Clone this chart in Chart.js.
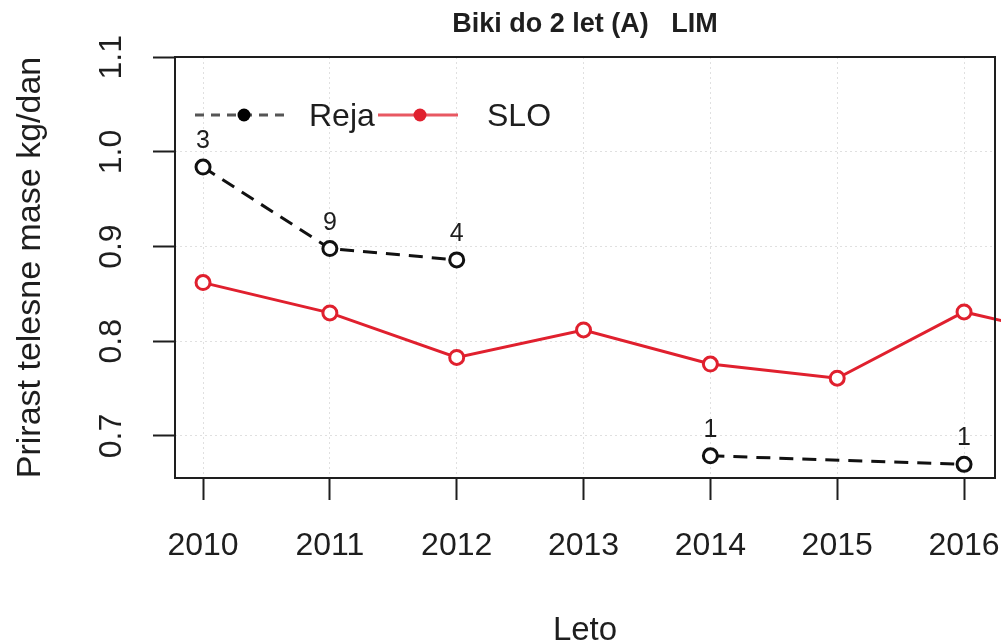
<!DOCTYPE html>
<html>
<head>
<meta charset="utf-8">
<title>Biki do 2 let (A) LIM</title>
<script src="https://cdn.jsdelivr.net/npm/chart.js@4.4.1/dist/chart.umd.min.js"></script>
<style>
  html, body { margin: 0; padding: 0; background: #fff; }
  #wrap { width: 1006px; height: 644px; }
</style>
</head>
<body>
<div id="wrap"><canvas id="chart" width="1006" height="644"></canvas></div>
<script>
// --- data ---
const chartTitle = 'Biki do 2 let (A)   LIM';
const xTitle = 'Leto';
const yTitle = 'Prirast telesne mase kg/dan';

const xTicks = [2010, 2011, 2012, 2013, 2014, 2015, 2016];
const yTicks = [0.7, 0.8, 0.9, 1.0, 1.1];

const rejaYears  = [2010, 2011, 2012, 2013, 2014, 2016];
const rejaValues = [0.984, 0.898, 0.886, null, 0.679, 0.670];
const rejaCounts = [3, 9, 4, null, 1, 1];

const sloYears  = [2010, 2011, 2012, 2013, 2014, 2015, 2016, 2017];
const sloValues = [0.862, 0.830, 0.783, 0.812, 0.776, 0.761, 0.831, 0.800];

const legendLabels = ['Reja', 'SLO'];

// --- styling ---
const FONT = "'Liberation Sans', Arial, Helvetica, sans-serif";
const INK = '#1e1e1e';
const RED = '#e0202e';

const toPoints = (xs, ys) => xs.map((x, i) => ({ x: x, y: ys[i] }));

// Frame, rotated y tick labels, count labels, legend and title
const decorations = {
    id: 'decorations',
    afterDraw(chart) {
        const ctx = chart.ctx;
        const area = chart.chartArea;
        const yScale = chart.scales.y;

        ctx.save();

        // plot frame
        ctx.strokeStyle = INK;
        ctx.lineWidth = 2;
        ctx.strokeRect(area.left, area.top, area.right - area.left, area.bottom - area.top);

        // y tick labels, rotated like R's default
        ctx.fillStyle = INK;
        ctx.font = '32px ' + FONT;
        ctx.textAlign = 'center';
        ctx.textBaseline = 'middle';
        yTicks.forEach(v => {
            const py = yScale.getPixelForValue(v);
            ctx.save();
            ctx.translate(112, py);
            ctx.rotate(-Math.PI / 2);
            ctx.fillText(v.toFixed(1), 0, 0);
            ctx.restore();
        });

        // number of animals above Reja points
        const meta = chart.getDatasetMeta(0);
        ctx.font = '25px ' + FONT;
        ctx.textBaseline = 'alphabetic';
        meta.data.forEach((pt, i) => {
            if (rejaCounts[i] == null || rejaValues[i] == null) return;
            ctx.fillText(String(rejaCounts[i]), pt.x, pt.y - 19);
        });

        // legend
        const ly = 115;
        ctx.lineWidth = 3;
        ctx.strokeStyle = '#555';
        ctx.setLineDash([9, 7]);
        ctx.beginPath(); ctx.moveTo(195, ly); ctx.lineTo(287, ly); ctx.stroke();
        ctx.setLineDash([]);
        ctx.fillStyle = '#000';
        ctx.beginPath(); ctx.arc(244, ly, 6.5, 0, Math.PI * 2); ctx.fill();

        ctx.strokeStyle = RED;
        ctx.globalAlpha = 0.75;
        ctx.beginPath(); ctx.moveTo(378, ly); ctx.lineTo(458, ly); ctx.stroke();
        ctx.globalAlpha = 1;
        ctx.fillStyle = RED;
        ctx.beginPath(); ctx.arc(420, ly, 6.5, 0, Math.PI * 2); ctx.fill();

        ctx.fillStyle = INK;
        ctx.font = '32px ' + FONT;
        ctx.textAlign = 'left';
        ctx.textBaseline = 'middle';
        ctx.fillText(legendLabels[0], 309, ly + 2);
        ctx.fillText(legendLabels[1], 487, ly + 2);

        // title
        ctx.font = 'bold 27px ' + FONT;
        ctx.textAlign = 'center';
        ctx.fillText(chartTitle, (area.left + area.right) / 2, 25);

        ctx.restore();
    }
};

const gridStyle = {
    color: 'rgba(0,0,0,0.12)',
    lineWidth: 1,
    tickColor: INK,
    tickWidth: 2,
    tickBorderDash: [],
    tickLength: 22
};

new Chart(document.getElementById('chart'), {
    type: 'line',
    data: {
        datasets: [
            {
                label: legendLabels[0],
                data: toPoints(rejaYears, rejaValues),
                borderColor: '#111',
                borderWidth: 3,
                borderDash: [14, 9],
                pointRadius: 7,
                pointBorderWidth: 3,
                pointBorderColor: '#111',
                pointBackgroundColor: '#fff',
                spanGaps: false
            },
            {
                label: legendLabels[1],
                data: toPoints(sloYears, sloValues),
                borderColor: RED,
                borderWidth: 3,
                pointRadius: 7,
                pointBorderWidth: 3,
                pointBorderColor: RED,
                pointBackgroundColor: '#fff',
                clip: { left: 0, top: 0, right: 6, bottom: 0 }
            }
        ]
    },
    options: {
        responsive: false,
        animation: false,
        devicePixelRatio: 1,
        layout: { padding: { top: 57, right: 11, bottom: 0, left: 0 } },
        plugins: {
            legend: { display: false },
            title: { display: false },
            tooltip: { enabled: false }
        },
        scales: {
            x: {
                type: 'linear',
                min: 2009.779,
                max: 2016.244,
                afterBuildTicks: scale => { scale.ticks = xTicks.map(v => ({ value: v })); },
                afterFit: scale => {
                    scale.height = 166;
                    scale.paddingLeft = 0;
                    scale.paddingRight = 0;
                },
                ticks: {
                    color: INK,
                    font: { family: FONT, size: 32 },
                    padding: 27,
                    maxRotation: 0,
                    callback: v => String(v)
                },
                grid: gridStyle,
                border: { display: false, dash: [2, 3] },
                title: {
                    display: true,
                    text: xTitle,
                    color: INK,
                    font: { family: FONT, size: 33 },
                    padding: { top: 0, bottom: -7 }
                }
            },
            y: {
                min: 0.6556,
                max: 1.1003,
                afterBuildTicks: scale => { scale.ticks = yTicks.map(v => ({ value: v })); },
                afterFit: scale => { scale.width = 175; },
                ticks: { display: false },
                grid: gridStyle,
                border: { display: false, dash: [2, 3] },
                title: {
                    display: true,
                    text: yTitle,
                    color: INK,
                    font: { family: FONT, size: 34 },
                    padding: { top: 10, bottom: 0 }
                }
            }
        }
    },
    plugins: [decorations]
});
</script>
</body>
</html>
